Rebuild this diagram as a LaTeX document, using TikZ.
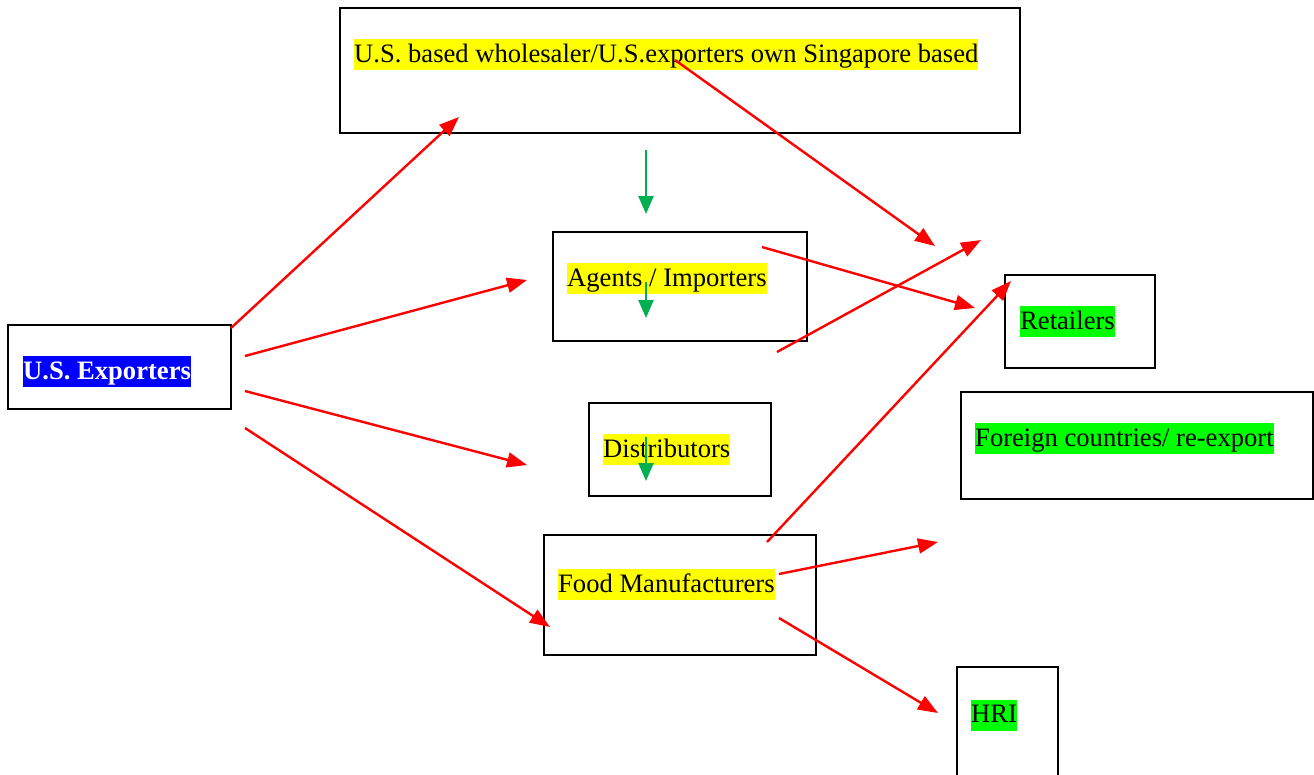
\documentclass[tikz,border=0pt]{standalone}
\usepackage{fontspec}
\setmainfont{Liberation Serif}
\usetikzlibrary{arrows.meta}
\definecolor{hlyellow}{HTML}{FFFF00}
\definecolor{hlgreen}{HTML}{00FF00}
\definecolor{hlblue}{HTML}{0000FF}
\definecolor{arrred}{HTML}{FF0000}
\definecolor{arrgreen}{HTML}{00B050}
\tikzset{
  box/.style={draw=black, line width=2pt, inner sep=0pt, fill=none},
  hl/.style={anchor=west, inner sep=0pt, font=\fontsize{26.6}{32}\selectfont, text height=23pt, text depth=8pt},
  redarrow/.style={draw=arrred, line width=2.4pt, -{Triangle[length=20pt,width=15pt]}},
  greenarrow/.style={draw=arrgreen, line width=2.4pt, -{Triangle[length=18pt,width=15pt]}}
}
\begin{document}
\begin{tikzpicture}[x=1pt,y=-1pt]
\clip (0,0) rectangle (1314,774);
\fill[white] (0,0) rectangle (1314,774);
% boxes
\node[box, minimum width=680pt, minimum height=125pt] (top) at (680,70.5) {};
\node[box, minimum width=254pt, minimum height=109pt] (agents) at (680,286.5) {};
\node[box, minimum width=223pt, minimum height=84pt] (usexp) at (119.5,367) {};
\node[box, minimum width=182pt, minimum height=93pt] (dist) at (680,449.5) {};
\node[box, minimum width=150pt, minimum height=93pt] (retail) at (1080,321.5) {};
\node[box, minimum width=352pt, minimum height=107pt] (foreign) at (1137,445.5) {};
\node[box, minimum width=272pt, minimum height=120pt] (food) at (680,595) {};
\node[box, minimum width=101pt, minimum height=130pt] (hri) at (1007.5,732) {};
% labels
\node[hl, fill=hlyellow] (toptxt) at (354,54.5) {U.S. based wholesaler/U.S.exporters own Singapore based};
\node[hl, fill=hlyellow] (agtxt) at (567,278.5) {Agents / Importers};
\node[hl, fill=hlblue, text=white, font=\fontsize{26.6}{32}\selectfont\bfseries] (ustxt) at (23,371.5) {U.S. Exporters};
\node[hl, fill=hlyellow] (disttxt) at (603,449.5) {Distributors};
\node[hl, fill=hlgreen] (rettxt) at (1020,321.5) {Retailers};
\node[hl, fill=hlgreen] (fortxt) at (975,438.5) {Foreign countries/ re-export};
\node[hl, fill=hlyellow] (foodtxt) at (558,584.5) {Food Manufacturers};
\node[hl, fill=hlgreen] (hritxt) at (971,715) {HRI};
% connector end points
\coordinate (a1s) at (231,328);  \coordinate (a1e) at (459,117);
\coordinate (a2s) at (245,356);  \coordinate (a2e) at (527,280);
\coordinate (a3s) at (245,391);  \coordinate (a3e) at (527,465);
\coordinate (a4s) at (245,428);  \coordinate (a4e) at (550,627);
\coordinate (g1s) at (646,150);  \coordinate (g1e) at (646,214);
\coordinate (g2s) at (646,282);  \coordinate (g2e) at (646,318);
\coordinate (g3s) at (646,437);  \coordinate (g3e) at (646,481);
\coordinate (b1s) at (675,60);   \coordinate (b1e) at (935,246);
\coordinate (b2s) at (762,247);  \coordinate (b2e) at (975,308);
\coordinate (b3s) at (777,352);  \coordinate (b3e) at (981,240);
\coordinate (b4s) at (767,542);  \coordinate (b4e) at (1011,281);
\coordinate (b5s) at (779,574);  \coordinate (b5e) at (938,542);
\coordinate (b6s) at (779,618);  \coordinate (b6e) at (938,713);
% arrows
\draw[redarrow] (a1s) -- (a1e);
\draw[redarrow] (a2s) -- (a2e);
\draw[redarrow] (a3s) -- (a3e);
\draw[redarrow] (a4s) -- (a4e);
\draw[greenarrow] (g1s) -- (g1e);
\draw[greenarrow] (g2s) -- (g2e);
\draw[greenarrow] (g3s) -- (g3e);
\draw[redarrow] (b1s) -- (b1e);
\draw[redarrow] (b2s) -- (b2e);
\draw[redarrow] (b3s) -- (b3e);
\draw[redarrow] (b4s) -- (b4e);
\draw[redarrow] (b5s) -- (b5e);
\draw[redarrow] (b6s) -- (b6e);
\end{tikzpicture}
\end{document}
